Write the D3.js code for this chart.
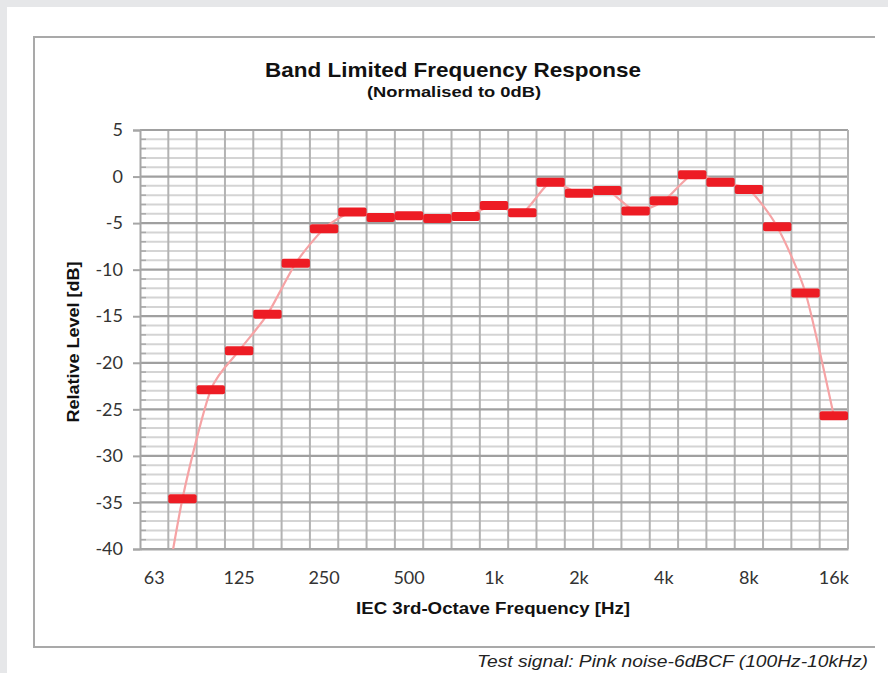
<!DOCTYPE html>
<html>
<head>
<meta charset="utf-8">
<script src="https://cdn.jsdelivr.net/npm/d3@7"></script>
<style>
  body { margin: 0; background: #e6e7e9; }
  svg { display: block; }
</style>
</head>
<body>
<script>
// 1/3 octave bands, 63 Hz .. 16 kHz
var bands = ["63","80","100","125","160","200","250","315","400","500","630","800",
  "1k","1.25k","1.6k","2k","2.5k","3.15k","4k","5k","6.3k","8k","10k","12.5k","16k"];
var tickBands = ["63","125","250","500","1k","2k","4k","8k","16k"];
// relative level in dB (63 Hz is below the axis, only its line shows)
var levels = [-52, -34.6, -22.9, -18.7, -14.8, -9.3, -5.6, -3.8, -4.4, -4.2, -4.5, -4.3,
  -3.1, -3.9, -0.6, -1.8, -1.5, -3.7, -2.6, 0.2, -0.6, -1.4, -5.4, -12.5, -25.7];
var yTicks = [5, 0, -5, -10, -15, -20, -25, -30, -35, -40];

var W = 888, H = 673;
var pLeft = 140, pRight = 848, pTop = 130, pBottom = 549;

var svg = d3.select("body").append("svg")
    .attr("width", W)
    .attr("height", H);

svg.append("rect").attr("width", W).attr("height", H).attr("fill", "#e6e7e9");
svg.append("rect").attr("x", 7).attr("y", 7).attr("width", W - 7).attr("height", H - 7).attr("fill", "#ffffff");

// chart frame
svg.append("path")
    .attr("d", "M875,37H34V647H875")
    .attr("fill", "none")
    .attr("stroke", "#a9a9a9")
    .attr("stroke-width", 2);

var x = d3.scaleBand().domain(bands).range([pLeft, pRight]);
var y = d3.scaleLinear().domain([-40, 5]).range([pBottom, pTop]);

// minor horizontal grid (1 dB)
var minor = d3.range(-39, 5).filter(function(v){ return v % 5 != 0; });
svg.append("g").selectAll("line")
    .data(minor)
    .enter().append("line")
    .attr("x1", pLeft).attr("x2", pRight)
    .attr("y1", function(d){ return y(d); })
    .attr("y2", function(d){ return y(d); })
    .attr("stroke", "#d4d4d4")
    .attr("stroke-width", 2);
// minor tick marks
svg.append("g").selectAll("line")
    .data(minor)
    .enter().append("line")
    .attr("x1", pLeft).attr("x2", pLeft + 6)
    .attr("y1", function(d){ return y(d); })
    .attr("y2", function(d){ return y(d); })
    .attr("stroke", "#a9a9a9")
    .attr("stroke-width", 1.5);

// vertical band lines
svg.append("g").selectAll("line")
    .data(bands.slice(1))
    .enter().append("line")
    .attr("x1", function(d){ return x(d); })
    .attr("x2", function(d){ return x(d); })
    .attr("y1", pTop).attr("y2", pBottom)
    .attr("stroke", "#b3b3b3")
    .attr("stroke-width", 2);

// major grid
svg.append("g").selectAll("line")
    .data(yTicks)
    .enter().append("line")
    .attr("x1", pLeft).attr("x2", pRight)
    .attr("y1", function(d){ return y(d); })
    .attr("y2", function(d){ return y(d); })
    .attr("stroke", "#a0a0a0")
    .attr("stroke-width", 2.2);

svg.append("line")
    .attr("x1", pRight).attr("x2", pRight)
    .attr("y1", pTop).attr("y2", pBottom)
    .attr("stroke", "#b3b3b3").attr("stroke-width", 2);

// y axis
var yAxis = svg.append("g")
    .attr("transform", "translate(" + pLeft + ",0)")
    .call(d3.axisLeft(y).tickValues(yTicks).tickSize(7).tickPadding(10)
        .tickFormat(function(d){ return String(d); }));
yAxis.select(".domain").attr("stroke", "#a6a6a6").attr("stroke-width", 2);
yAxis.selectAll(".tick line").attr("stroke", "#a6a6a6").attr("stroke-width", 2);
yAxis.selectAll("text")
    .attr("font-family", "Lato, 'Open Sans', sans-serif")
    .attr("font-size", 18)
    .attr("fill", "#333");

// x axis
var xAxis = svg.append("g")
    .attr("transform", "translate(0," + pBottom + ")")
    .call(d3.axisBottom(x).tickValues(tickBands).tickSize(0).tickPadding(22));
xAxis.select(".domain").attr("stroke", "#a6a6a6").attr("stroke-width", 2);
xAxis.selectAll("text")
    .attr("font-family", "Lato, 'Open Sans', sans-serif")
    .attr("font-size", 18)
    .attr("fill", "#333");

// data
svg.append("clipPath").attr("id", "plot")
    .append("rect").attr("x", pLeft).attr("y", pTop - 6)
    .attr("width", pRight - pLeft + 2).attr("height", pBottom - pTop + 6);

var pts = bands.map(function(b, i){ return [x(b) + x.bandwidth() / 2, y(levels[i])]; });
var line = d3.line().curve(d3.curveCardinal.tension(0.3));

svg.append("path")
    .attr("clip-path", "url(#plot)")
    .attr("d", line(pts))
    .attr("fill", "none")
    .attr("stroke", "#f6a3a5")
    .attr("stroke-width", 2.2);

svg.append("g").attr("clip-path", "url(#plot)")
    .selectAll("rect")
    .data(bands.slice(1))
    .enter().append("rect")
    .attr("x", function(d){ return x(d); })
    .attr("y", function(d){ return y(levels[bands.indexOf(d)]) - 4.5; })
    .attr("width", x.bandwidth())
    .attr("height", 9)
    .attr("rx", 2)
    .attr("fill", "#ed1c24");

// titles
svg.append("text")
    .attr("x", 453).attr("y", 77)
    .attr("text-anchor", "middle")
    .attr("font-family", "'Liberation Sans', Arial, sans-serif")
    .attr("font-weight", "bold")
    .attr("font-size", 21)
    .attr("textLength", 376)
    .attr("lengthAdjust", "spacingAndGlyphs")
    .attr("fill", "#111")
    .text("Band Limited Frequency Response");
svg.append("text")
    .attr("x", 454).attr("y", 97)
    .attr("text-anchor", "middle")
    .attr("font-family", "'Liberation Sans', Arial, sans-serif")
    .attr("font-weight", "bold")
    .attr("font-size", 15)
    .attr("textLength", 174)
    .attr("lengthAdjust", "spacingAndGlyphs")
    .attr("fill", "#111")
    .text("(Normalised to 0dB)");

svg.append("text")
    .attr("transform", "translate(79,342) rotate(-90)")
    .attr("text-anchor", "middle")
    .attr("font-family", "'Liberation Sans', Arial, sans-serif")
    .attr("font-weight", "bold")
    .attr("font-size", 16)
    .attr("textLength", 161)
    .attr("lengthAdjust", "spacingAndGlyphs")
    .attr("fill", "#111")
    .text("Relative Level [dB]");

svg.append("text")
    .attr("x", 493).attr("y", 614)
    .attr("text-anchor", "middle")
    .attr("font-family", "'Liberation Sans', Arial, sans-serif")
    .attr("font-weight", "bold")
    .attr("font-size", 16)
    .attr("textLength", 274)
    .attr("lengthAdjust", "spacingAndGlyphs")
    .attr("fill", "#111")
    .text("IEC 3rd-Octave Frequency [Hz]");

svg.append("text")
    .attr("x", 868).attr("y", 667)
    .attr("text-anchor", "end")
    .attr("font-family", "'Liberation Sans', Arial, sans-serif")
    .attr("font-style", "italic")
    .attr("font-size", 16)
    .attr("textLength", 391)
    .attr("lengthAdjust", "spacingAndGlyphs")
    .attr("fill", "#222")
    .text("Test signal: Pink noise-6dBCF (100Hz-10kHz)");
</script>
</body>
</html>
